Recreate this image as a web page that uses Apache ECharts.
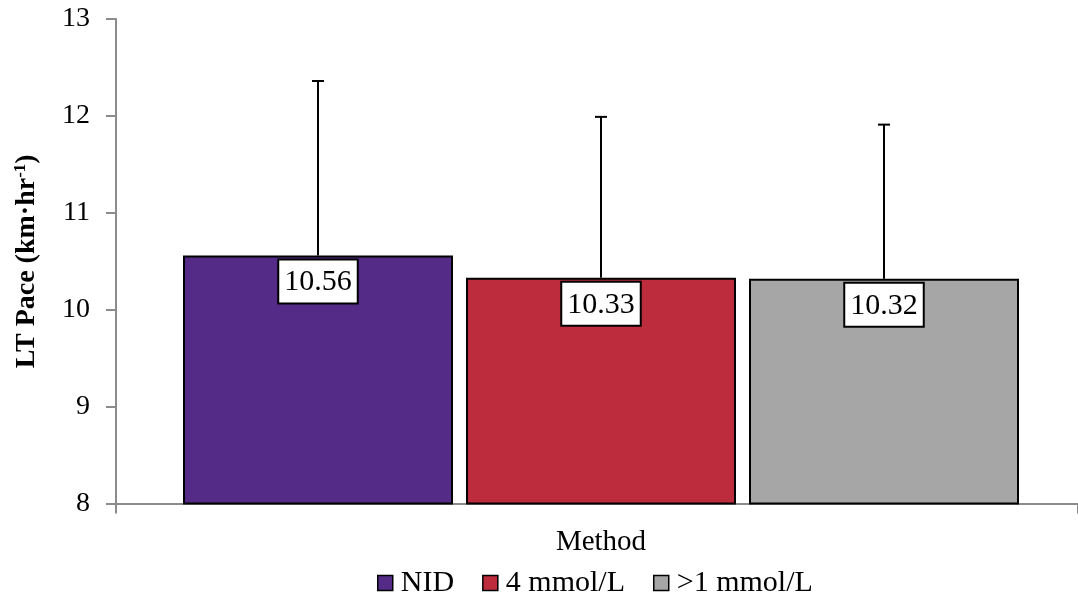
<!DOCTYPE html>
<html>
<head>
<meta charset="utf-8">
<script src="https://cdn.jsdelivr.net/npm/echarts@6/dist/echarts.min.js"></script>
<style>html,body{margin:0;padding:0;background:#fff}#c{width:1078px;height:605px}</style>
</head>
<body>
<div id="c"></div>
<script>
var categories = ['Method'];
var seriesNames = ['NID', '4 mmol/L', '>1 mmol/L'];
var means = [10.56, 10.33, 10.32];
var sds = [1.80, 1.66, 1.59];
var yTicks = [8, 9, 10, 11, 12, 13];
var colors = ['#542C87', '#BC2C3C', '#A6A6A6'];

var FONT = 'Liberation Serif';
var BAR_W = 270, BAR_GAP = 13;
var chart = echarts.init(document.getElementById('c'), null, {renderer: 'canvas'});

var series = [];
seriesNames.forEach(function (n, i) {
  series.push({
    name: n, type: 'bar', xAxisIndex: 1, yAxisIndex: 1,
    barWidth: BAR_W, barGap: (BAR_GAP / BAR_W * 100) + '%',
    data: [means[i]],
    itemStyle: {color: colors[i], borderColor: '#000', borderWidth: 2},
    label: {
      show: true, position: 'insideTop', distance: 5,
      formatter: function (p) { return p.value.toFixed(2); },
      fontFamily: FONT, fontSize: 30, color: '#000',
      backgroundColor: '#fff', borderColor: '#000', borderWidth: 2,
      padding: [7, 5, 5, 5]
    }
  });
});
seriesNames.forEach(function (n, i) {
  series.push({
    type: 'custom', xAxisIndex: 1, yAxisIndex: 1, z: 5, silent: true,
    data: [[0, means[i], means[i] + sds[i]]],
    renderItem: function (params, api) {
      var off = (i - 1) * (BAR_W + BAR_GAP);
      var p0 = api.coord([api.value(0), api.value(1)]);
      var p1 = api.coord([api.value(0), api.value(2)]);
      var x = p0[0] + off;
      return {
        type: 'group',
        children: [
          {type: 'line', shape: {x1: x, y1: p0[1], x2: x, y2: p1[1]}, style: {stroke: '#000', lineWidth: 2}},
          {type: 'line', shape: {x1: x - 6, y1: p1[1], x2: x + 6, y2: p1[1]}, style: {stroke: '#000', lineWidth: 2}}
        ]
      };
    }
  });
});

var option = {
  animation: false,
  backgroundColor: '#fff',
  grid: [
    {left: 116, right: 0, top: 19, bottom: 101.5},
    {left: 124, right: 0, top: 19, bottom: 101.5}
  ],
  legend: {
    data: seriesNames, bottom: 2, left: 372,
    itemWidth: 15, itemHeight: 15, itemGap: 28,
    icon: 'rect',
    itemStyle: {borderColor: '#000', borderWidth: 1.5},
    textStyle: {fontFamily: FONT, fontSize: 30, color: '#000', padding: [0, 0, 0, 3]}
  },
  xAxis: [
    {
      type: 'category', gridIndex: 0, data: categories,
      axisLine: {lineStyle: {color: '#8c8c8c', width: 2}},
      axisTick: {show: true, length: 10, lineStyle: {color: '#8c8c8c', width: 2}},
      axisLabel: {fontFamily: FONT, fontSize: 29, color: '#000', margin: 24, padding: [0, 0, 0, 8]}
    },
    {type: 'category', gridIndex: 1, data: categories, show: false}
  ],
  yAxis: [
    {
      type: 'value', gridIndex: 0, min: yTicks[0], max: yTicks[yTicks.length - 1], interval: 1,
      splitLine: {show: false},
      axisLine: {show: true, lineStyle: {color: '#8c8c8c', width: 2}},
      axisTick: {show: true, length: 10, lineStyle: {color: '#8c8c8c', width: 2}},
      axisLabel: {fontFamily: FONT, fontSize: 28, color: '#000', margin: 26},
      name: '{a|LT Pace (km·hr}{s|-1}{a|)}',
      nameLocation: 'middle', nameGap: 74, nameRotate: 90,
      nameTextStyle: {
        rich: {
          a: {fontFamily: FONT, fontSize: 28, fontWeight: 'bold', color: '#000'},
          s: {fontFamily: FONT, fontSize: 17, fontWeight: 'bold', color: '#000', padding: [0, 0, 13, 0]}
        }
      }
    },
    {type: 'value', gridIndex: 1, min: yTicks[0], max: yTicks[yTicks.length - 1], interval: 1, show: false}
  ],
  series: series
};
chart.setOption(option);
</script>
</body>
</html>
